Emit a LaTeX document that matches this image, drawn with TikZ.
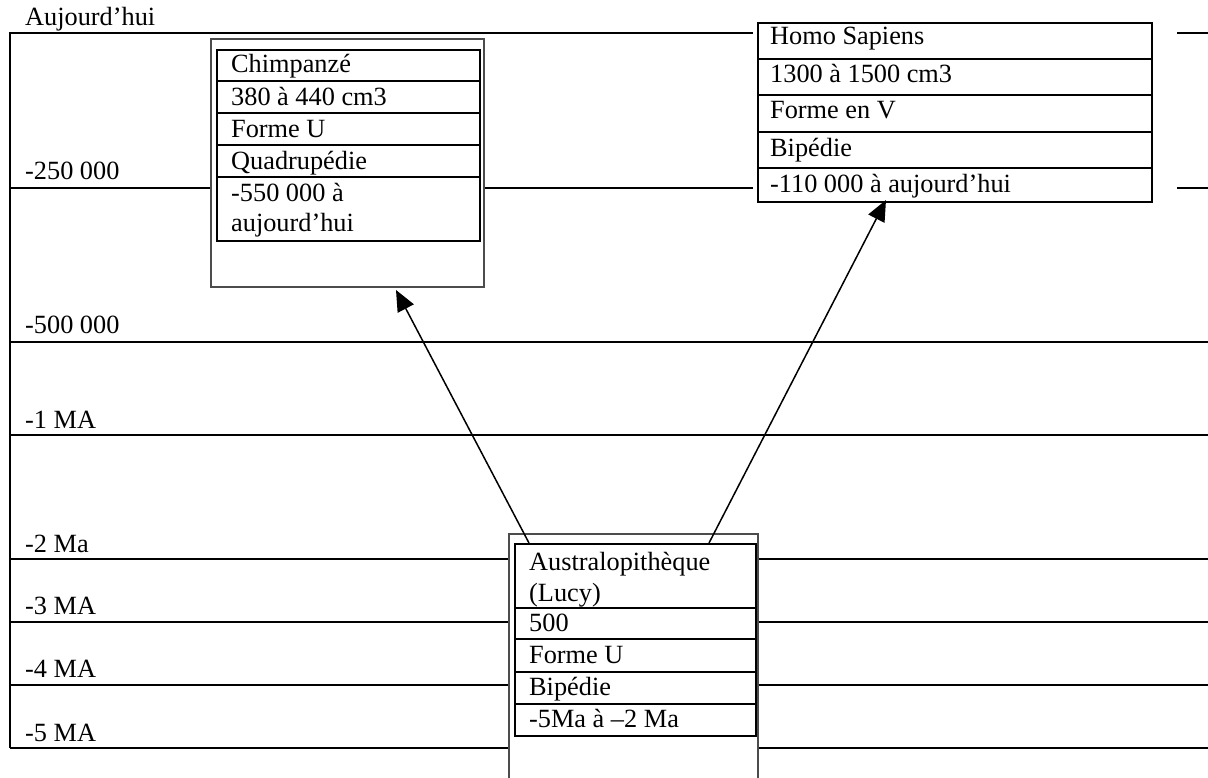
\documentclass[tikz,border=0pt]{standalone}
\usepackage{fontspec}
\setmainfont{Liberation Serif}
\usetikzlibrary{arrows.meta}
\tikzset{
  rule/.style={line width=2pt},
  outerbox/.style={draw=black!70, line width=2pt, inner sep=0pt, anchor=north west},
  tablebox/.style={draw, line width=2.2pt, inner sep=0pt, anchor=north west},
  rowline/.style={line width=2.2pt},
  txt/.style={anchor=base west, inner sep=0pt, font=\fontsize{26.3}{31}\selectfont},
  arr/.style={line width=1.5pt, -{Triangle[length=21pt,width=18pt]}}
}
\begin{document}
\begin{tikzpicture}[x=1pt,y=-1pt]
\useasboundingbox (0,0) rectangle (1208,778);
% timeline rules
\draw[rule] (10,748) -- (10,33) -- (753,33);
\draw[rule] (1177,33) -- (1208,33);
\draw[rule] (10,188) -- (210,188);
\draw[rule] (483,188) -- (753,188);
\draw[rule] (1177,188) -- (1208,188);
\draw[rule] (10,342) -- (1208,342);
\draw[rule] (10,435) -- (1208,435);
\foreach \yy in {559,622,685,748}{
  \draw[rule] (10,\yy) -- (509,\yy);
  \draw[rule] (758,\yy) -- (1208,\yy);
}
% time labels
\node[txt] (t0) at (25,26) {Aujourd’hui};
\node[txt] (t1) at (25,180) {-250 000};
\node[txt] (t2) at (25,333) {-500 000};
\node[txt] (t3) at (25,428) {-1 MA};
\node[txt] (t4) at (25,552) {-2 Ma};
\node[txt] (t5) at (25,614) {-3 MA};
\node[txt] (t6) at (25,677) {-4 MA};
\node[txt] (t7) at (25,741) {-5 MA};

% Chimpanzee
\node[outerbox, fill=white, minimum width=273pt, minimum height=248pt] (chimpout) at (210,38) {};
\node[tablebox, minimum width=263pt, minimum height=191pt] (chimp) at (216,49) {};
\foreach \yy in {81,113,145,177}{\draw[rowline] (216,\yy) -- (479,\yy);}
\node[txt] (c1) at (231,73) {Chimpanzé};
\node[txt] (c2) at (231,106) {380 à 440 cm3};
\node[txt] (c3) at (231,138) {Forme U};
\node[txt] (c4) at (231,170) {Quadrupédie};
\node[txt] (c5) at (231,202) {-550 000 à};
\node[txt] (c6) at (231,232) {aujourd’hui};

% Homo sapiens
\node[tablebox, fill=white, minimum width=394pt, minimum height=179pt] (homo) at (757,22) {};
\foreach \yy in {59,95,132,168}{\draw[rowline] (757,\yy) -- (1151,\yy);}
\node[txt] (h1) at (770,45) {Homo Sapiens};
\node[txt] (h2) at (770,83) {1300 à 1500 cm3};
\node[txt] (h3) at (770,119) {Forme en V};
\node[txt] (h4) at (770,157) {Bipédie};
\node[txt] (h5) at (770,193) {-110 000 à aujourd’hui};

% Australopithecus
\draw[draw=black!70, line width=2pt, fill=white] (509,790) -- (509,534) -- (758,534) -- (758,790);
\node[tablebox, minimum width=241pt, minimum height=192pt] (lucy) at (514,543) {};
\foreach \yy in {608,639,672,704}{\draw[rowline] (514,\yy) -- (755,\yy);}
\node[txt] (l1) at (529,570) {Australopithèque};
\node[txt] (l2) at (529,601) {(Lucy)};
\node[txt] (l3) at (529,631) {500};
\node[txt] (l4) at (529,663) {Forme U};
\node[txt] (l5) at (529,695) {Bipédie};
\node[txt] (l6) at (529,727) {-5Ma à –2 Ma};

% arrows
\coordinate (s1) at (529,543);
\coordinate (e1) at (396,290);
\coordinate (s2) at (709,543);
\coordinate (e2) at (886,200);
\draw[arr] (s1) -- (e1);
\draw[arr] (s2) -- (e2);
\end{tikzpicture}
\end{document}
